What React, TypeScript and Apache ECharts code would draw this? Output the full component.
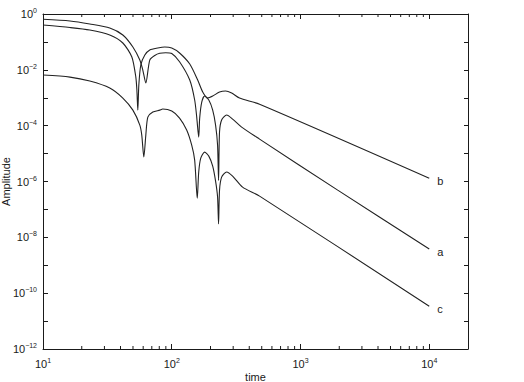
import React, { useEffect, useRef } from 'react';
import * as echarts from 'echarts';

// Curve a
const timeA = [10, 16.2, 23.1, 33.0, 41.7, 49.9, 56.5, 59.6, 62.9, 67.5, 73.8, 80.7, 89.8, 100, 115, 138, 150.7, 156.3, 162, 164.8, 171, 180, 194, 208, 219, 227, 231, 235, 244, 267, 297, 349, 481, 1945, 10000];
const ampA = [0.645, 0.561, 0.438, 0.315, 0.177, 0.0657, 0.0224, 0.00984, 0.00336, 0.0224, 0.0326, 0.039, 0.041, 0.0384, 0.0195, 4.3e-3, 8.3e-4, 2.03e-4, 3.9e-5, 1.87e-4, 7.0e-4, 1.15e-3, 8.3e-4, 3.6e-4, 1.05e-4, 2.0e-5, 1.1e-6, 5.9e-5, 1.6e-4, 2.4e-4, 1.72e-4, 8.9e-5, 3.3e-5, 4.9e-7, 3.8e-9];

// Curve b
const timeB = [10, 16.2, 23.1, 33.0, 41.7, 49.0, 52.6, 53.6, 54.5, 55.5, 57.5, 61.8, 67.5, 77.8, 88.2, 100, 115, 138, 159, 174, 190, 208, 235, 262, 292, 336, 481, 10000];
const ampB = [0.403, 0.328, 0.267, 0.177, 0.0914, 0.0288, 5.5e-3, 1.9e-3, 3.6e-4, 2.85e-3, 0.0149, 0.0339, 0.0513, 0.0604, 0.0657, 0.0604, 0.040, 0.0161, 4.3e-3, 1.6e-3, 9.75e-4, 1.15e-3, 1.6e-3, 1.74e-3, 1.47e-3, 9.75e-4, 5.9e-4, 1.32e-6];

// Curve c
const timeC = [10, 16.2, 23.1, 33.0, 41.7, 49.9, 56.5, 58.5, 60.7, 62.9, 65.2, 71.3, 80.7, 85.1, 100, 115, 130.6, 142.9, 150.7, 157.8, 162, 168, 180, 194, 208, 219, 227, 231, 235, 244, 267, 297, 355, 481, 10000];
const ampC = [6.5e-3, 5.5e-3, 3.97e-3, 2.23e-3, 9.75e-4, 3.6e-4, 1.05e-4, 4.6e-5, 7.5e-6, 4.6e-5, 2.03e-4, 3.07e-4, 3.6e-4, 3.94e-4, 3.33e-4, 1.87e-4, 6.95e-5, 2.0e-5, 5.85e-6, 2.5e-7, 2.2e-6, 6.9e-6, 1.13e-5, 8.1e-6, 3.56e-6, 1.03e-6, 2.76e-7, 3.0e-8, 4.9e-7, 1.44e-6, 2.2e-6, 1.56e-6, 6.3e-7, 3.0e-7, 3.4e-11];

const seriesNames = ['a', 'b', 'c'];

// Axis ranges and minor tick positions
const X_MIN = 10;
const X_MAX = 20000;
const Y_MIN = 1e-12;
const Y_MAX = 1;
const xMinorTicks = [20, 30, 40, 50, 60, 70, 80, 90, 200, 300, 400, 500, 600, 700, 800, 900, 2000, 3000, 4000, 5000, 6000, 7000, 8000, 9000];

const FONT = 'Liberation Sans, Arial, Helvetica, sans-serif';
const INK = '#1a1a1a';

function zip(t: number[], v: number[]) {
  return t.map((x, i) => [x, v[i]]);
}

function powLabel(v: number, everyOther: boolean) {
  const l = Math.log10(v);
  const e = Math.round(l);
  if (Math.abs(l - e) > 1e-6) return '';
  if (everyOther && e % 2 !== 0) return '';
  const exp = (e < 0 ? '\u2212' : '') + Math.abs(e);
  return `{b|10}{s|${exp}}`;
}

const rich = {
  b: { fontSize: 11, fontFamily: FONT, color: INK, lineHeight: 14 },
  s: { fontSize: 7, fontFamily: FONT, color: INK, lineHeight: 8, verticalAlign: 'top' as const },
};

export default function App() {
  const ref = useRef<HTMLDivElement>(null);

  useEffect(() => {
    if (!ref.current) return;
    const chart = echarts.init(ref.current, undefined, { renderer: 'svg' });

    const data = [zip(timeA, ampA), zip(timeB, ampB), zip(timeC, ampC)];
    const lineSeries = seriesNames.map((name, i) => ({
      type: 'line' as const,
      name,
      data: data[i],
      xAxisIndex: 0,
      yAxisIndex: 0,
      showSymbol: false,
      symbol: 'none',
      smooth: 0.25,
      lineStyle: { color: '#222', width: 1.1 },
      endLabel: {
        show: true,
        formatter: name,
        fontSize: 11,
        fontFamily: FONT,
        color: INK,
        distance: 8,
        offset: [0, 3],
      },
      z: 2,
    }));

    const axisCommon = {
      axisLine: { show: true, onZero: false, lineStyle: { color: INK, width: 1 } },
      splitLine: { show: false },
      nameMoveOverlap: false,
    };

    chart.setOption({
      animation: false,
      backgroundColor: '#ffffff',
      textStyle: { fontFamily: FONT },
      grid: { left: 43, top: 14, right: 56, bottom: 33, containLabel: false, outerBoundsMode: 'none' },
      xAxis: [
        {
          type: 'log',
          logBase: 10,
          min: X_MIN,
          max: X_MAX,
          interval: 1,
          position: 'bottom',
          ...axisCommon,
          axisTick: { show: true, inside: true, length: 5, lineStyle: { color: INK } },
          axisLabel: {
            show: true,
            margin: 8,
            formatter: (v: number) => powLabel(v, false),
            rich,
          },
          name: 'time',
          nameLocation: 'middle',
          nameGap: 22,
          nameTextStyle: { fontSize: 11, fontFamily: FONT, color: INK },
        },
        {
          type: 'log',
          logBase: 10,
          min: X_MIN,
          max: X_MAX,
          interval: 1,
          position: 'top',
          ...axisCommon,
          axisTick: { show: true, inside: true, length: 5, lineStyle: { color: INK } },
          axisLabel: { show: false },
        },
      ],
      yAxis: [
        {
          type: 'log',
          logBase: 10,
          min: Y_MIN,
          max: Y_MAX,
          interval: 1,
          position: 'left',
          ...axisCommon,
          axisTick: { show: true, inside: true, length: 5, lineStyle: { color: INK } },
          axisLabel: {
            show: true,
            margin: 6,
            formatter: (v: number) => powLabel(v, true),
            rich,
          },
          name: 'Amplitude',
          nameLocation: 'middle',
          nameGap: 32,
          nameTextStyle: { fontSize: 11, fontFamily: FONT, color: INK },
        },
        {
          type: 'log',
          logBase: 10,
          min: Y_MIN,
          max: Y_MAX,
          interval: 1,
          position: 'right',
          ...axisCommon,
          axisTick: { show: true, inside: true, length: 4, lineStyle: { color: INK } },
          axisLabel: { show: false },
        },
      ],
      series: [
        ...lineSeries,
        {
          type: 'custom',
          xAxisIndex: 0,
          yAxisIndex: 0,
          silent: true,
          clip: false,
          data: xMinorTicks.map((v) => [v, Y_MIN]),
          renderItem: (_params: any, api: any) => {
            const x = api.value(0);
            const b = api.coord([x, Y_MIN]);
            const t = api.coord([x, Y_MAX]);
            const style = { stroke: INK, lineWidth: 1 };
            return {
              type: 'group',
              children: [
                { type: 'line', shape: { x1: b[0], y1: b[1], x2: b[0], y2: b[1] - 3 }, style },
                { type: 'line', shape: { x1: t[0], y1: t[1], x2: t[0], y2: t[1] + 3 }, style },
              ],
            };
          },
          z: 3,
        },
      ],
    });

    return () => {
      chart.dispose();
    };
  }, []);

  return (
    <div
      ref={ref}
      style={{ position: 'fixed', left: 0, top: 0, width: 524, height: 382, background: '#fff' }}
    />
  );
}
